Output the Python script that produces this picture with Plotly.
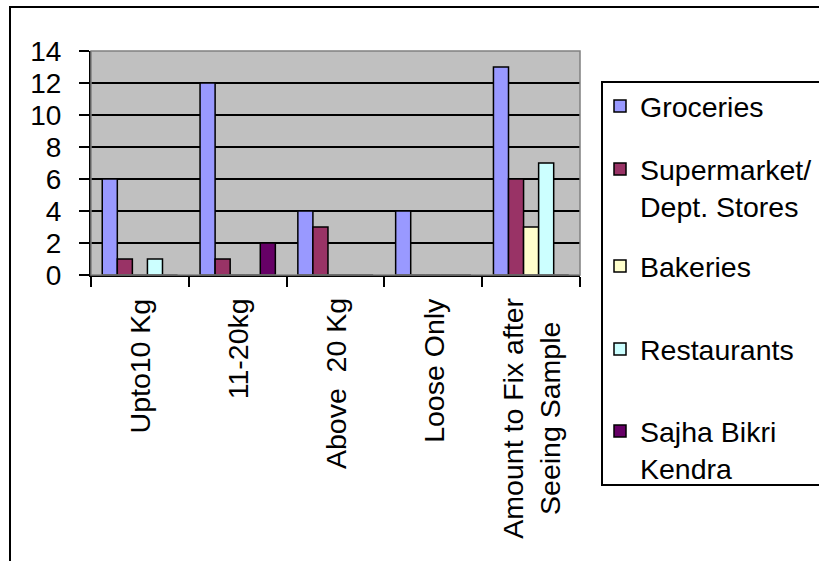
import plotly.graph_objects as go

# Pack-size preference by buyer type
categories = ["Upto10 Kg", "11-20kg", "Above  20 Kg", "Loose Only",
              "Amount to Fix after<br>Seeing Sample"]
series_names = ["Groceries", "Supermarket/<br>Dept. Stores", "Bakeries",
                "Restaurants", "Sajha Bikri<br>Kendra"]
groceries = [6, 12, 4, 4, 13]
supermarkets = [1, 1, 3, 0, 6]
bakeries = [0, 0, 0, 0, 3]
restaurants = [1, 0, 0, 0, 7]
sajha_bikri = [0, 2, 0, 0, 0]
y_ticks = [0, 2, 4, 6, 8, 10, 12, 14]

colors = ["#9999FF", "#993366", "#FFFFCC", "#CCFFFF", "#660066"]
series_values = [groceries, supermarkets, bakeries, restaurants, sajha_bikri]

FONT = "Liberation Sans, Arial, sans-serif"
W, H = 819, 561

# One legend per series so each entry sits on its own row of the key box
legend_ids = ["legend", "legend2", "legend3", "legend4", "legend5"]
legend_tops = [81, 144, 241, 324, 406]

fig = go.Figure()
for name, vals, col, lid in zip(series_names, series_values, colors, legend_ids):
    fig.add_trace(go.Bar(
        x=categories, y=vals, name=name, legend=lid, showlegend=True,
        marker=dict(color=col, line=dict(color="black", width=1.5)),
    ))

# Category labels, rotated and centred under each group
for cat in categories:
    fig.add_annotation(
        x=cat, xref="x", y=-0.094, yref="paper",
        text=cat, textangle=-90, showarrow=False,
        xanchor="center", yanchor="top", align="center",
        font=dict(family=FONT, size=28.5, color="black"),
    )

ml, mt, pw, ph = 91, 51, 489, 224

# Grey plot-area frame
fig.add_shape(type="rect", xref="paper", yref="paper", x0=0, x1=1, y0=0, y1=1,
              line=dict(color="#808080", width=1.5), layer="above")
# Outer chart border (runs off the right and bottom of the page)
fig.add_shape(type="rect", xref="paper", yref="paper",
              x0=(10 - ml) / pw, x1=(W + 10 - ml) / pw,
              y0=(mt + ph - (H + 10)) / ph, y1=(mt + ph - 7) / ph,
              line=dict(color="black", width=2), layer="above")
# Key box frame
fig.add_shape(type="rect", xref="paper", yref="paper",
              x0=(602 - ml) / pw, x1=(W + 20 - ml) / pw,
              y0=(mt + ph - 485) / ph, y1=(mt + ph - 82) / ph,
              line=dict(color="black", width=2), layer="above")

legend_style = dict(
    xref="container", yref="container", x=600 / W, xanchor="left",
    yanchor="top", bgcolor="rgba(0,0,0,0)", borderwidth=0,
    font=dict(family=FONT, size=28.5, color="black"), valign="top",
)
legends = {lid: dict(legend_style, y=1 - top / H)
           for lid, top in zip(legend_ids, legend_tops)}

fig.update_layout(
    width=W, height=H, showlegend=True,
    margin=dict(l=ml, r=W - ml - pw, t=mt, b=H - mt - ph, autoexpand=False),
    paper_bgcolor="white", plot_bgcolor="#C0C0C0",
    barmode="group", bargap=0.23, bargroupgap=0,
    font=dict(family=FONT, color="black"),
    xaxis=dict(
        type="category", showticklabels=False,
        showline=True, linecolor="black", linewidth=2,
        ticks="outside", tickson="boundaries", ticklen=10,
        tickwidth=2, tickcolor="black", showgrid=False, fixedrange=True,
    ),
    yaxis=dict(
        range=[0, 14], tickvals=y_ticks,
        showline=True, linecolor="black", linewidth=2,
        ticks="outside", ticklen=10, tickwidth=2, tickcolor="black",
        ticklabelstandoff=12,
        showgrid=True, gridcolor="black", gridwidth=2,
        zeroline=False,
        tickfont=dict(family=FONT, size=28, color="black"),
    ),
    **legends,
)

fig.write_html("out.html")
